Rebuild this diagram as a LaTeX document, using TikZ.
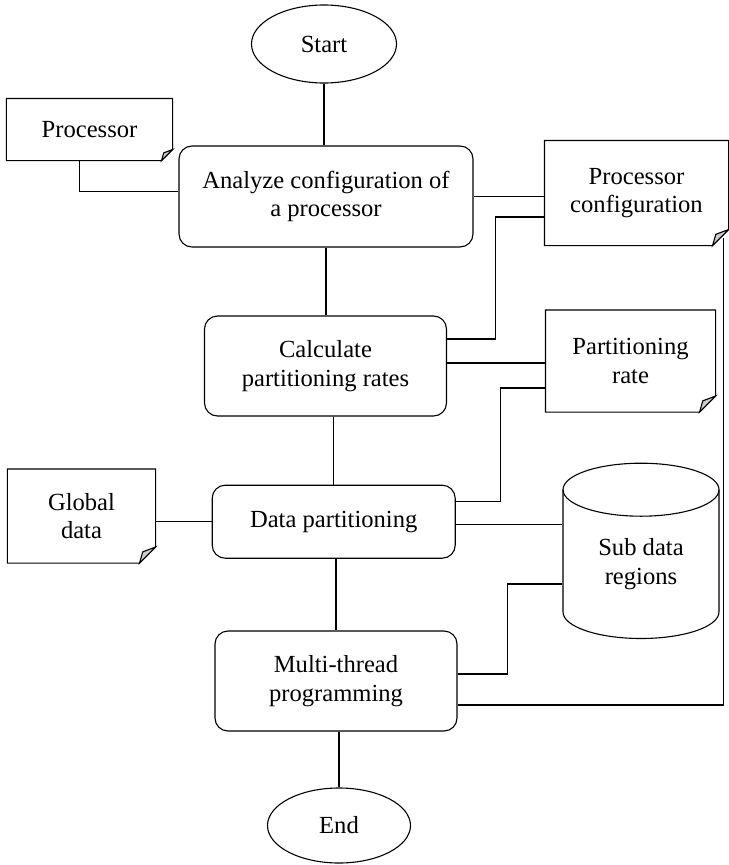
\documentclass[tikz,border=0pt]{standalone}
\usepackage{fontspec}
\setmainfont{Liberation Serif}
\usepackage{tikz}
\usetikzlibrary{shapes.geometric,calc}
\tikzset{
  txt/.style={font=\fontsize{24.6bp}{28.5bp}\selectfont, align=center, inner sep=0pt},
  term/.style={txt, draw, ellipse},
  proc/.style={txt, draw, rounded corners=13bp},
  doc/.style={txt},
  ln/.style={line width=1.1bp}
}
\begin{document}
\begin{tikzpicture}[x=1bp, y=-1bp, line width=1.1bp]
  \useasboundingbox (0,0) rectangle (729,865);
  \node[term, minimum width=145bp, minimum height=78bp] (start) at (324,44) {Start};
  \node[proc, minimum width=294bp, minimum height=101bp] (ana) at (326,196.5) {Analyze configuration of\\a processor};
  \node[proc, minimum width=242bp, minimum height=100bp] (calc) at (325.5,366) {Calculate\\partitioning rates};
  \node[proc, minimum width=243bp, minimum height=73bp] (dp) at (333.7,521.7) {Data partitioning};
  \node[proc, minimum width=242bp, minimum height=100bp] (mt) at (336,681) {Multi-thread\\programming};
  \node[term, minimum width=143bp, minimum height=75bp] (end) at (339,825.5) {End};
  \node[doc, minimum width=165bp, minimum height=61bp] (cpu) at (89.5,129.5) {Processor};
  \node[doc, minimum width=183bp, minimum height=104bp] (conf) at (636.5,193) {Processor\\configuration};
  \node[doc, minimum width=169bp, minimum height=101bp] (rate) at (630.5,361) {Partitioning\\rate};
  \node[doc, minimum width=147bp, minimum height=93bp] (glob) at (81.5,516) {Global\\data};
  \node[txt, minimum width=156bp, minimum height=176bp] (sub) at (641,551) {};
  \node[txt] at (641,564) {Sub data\\regions};
  \foreach \n/\f in {cpu/11,conf/16,rate/16,glob/16} {
    \draw (\n.north west) -- (\n.north east) -- ([yshift=\f bp]\n.south east)
      -- ([xshift=-\f bp]\n.south east) -- (\n.south west) -- cycle;
    \filldraw[fill=gray!40] ([xshift=-\f bp]\n.south east) -- ([xshift={-0.8*\f*1bp}, yshift={0.7*\f*1bp}]\n.south east)
      -- ([yshift=\f bp]\n.south east) -- cycle;
  }
  \draw (563,489.7) -- (563,612) arc[start angle=180, end angle=360, x radius=78bp, y radius=26.5bp] -- (719,489.7);
  \draw (641,489.7) ellipse[x radius=78bp, y radius=26.5bp];
  \draw (start) -- (start |- ana.north);
  \draw (ana.south) -- (ana.south |- calc.north);
  \draw (dp.north |- calc.south) -- (dp.north);
  \draw (mt.north |- dp.south) -- (mt.north);
  \draw (end.north |- mt.south) -- (end.north);
  \draw ([xshift=-10bp]cpu.south) |- ([yshift=5bp]ana.west);
  \draw (ana.east) -- (ana.east -| conf.west);
  \draw ([yshift=27bp]calc.east) -- ++(48bp,0) |- ([yshift=-24bp]conf.west);
  \draw ([yshift=3bp]calc.east) -- ([yshift=3bp]calc.east -| rate.west);
  \draw ([yshift=20bp]dp.east) -- ++(45bp,0) |- ([yshift=-27bp]rate.west);
  \draw (glob.east |- dp.west) -- (dp.west);
  \draw ([yshift=-3bp]dp.east) -- ([yshift=-3bp]dp.east -| sub.west);
  \draw ([yshift=7bp]mt.east) -- ++(50bp,0) |- ([yshift=-33bp]sub.west);
  \draw ([yshift=-24bp]mt.east) -| ([xshift=-5bp, yshift=8bp]conf.south east);
\end{tikzpicture}
\end{document}
